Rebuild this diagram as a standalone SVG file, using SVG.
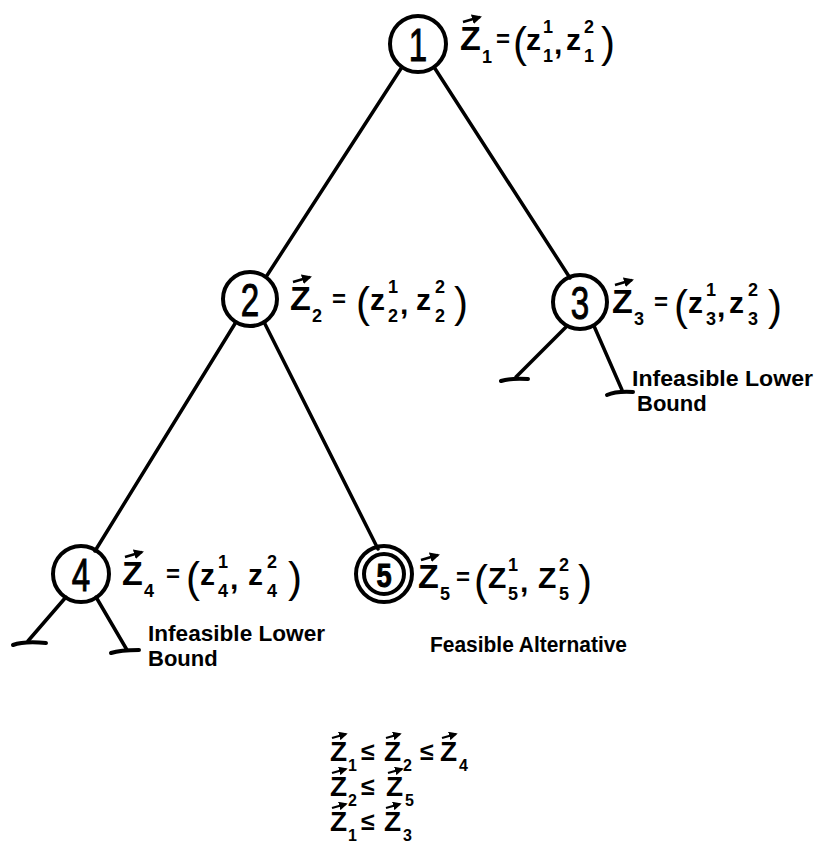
<svg xmlns="http://www.w3.org/2000/svg" width="821" height="860" viewBox="0 0 821 860">
<defs>
<marker id="ah" viewBox="0 0 10 10" refX="8" refY="5" markerWidth="4" markerHeight="4" orient="auto"><path d="M0,0 L10,5 L0,10 z" fill="#000"/></marker>
<style>
.nc{fill:none;stroke:#000;stroke-width:4}
.num{font-family:"Liberation Sans",Arial,sans-serif;font-size:46px;text-anchor:middle;fill:#000;stroke:#000;stroke-width:1}
.Z{font-family:"Liberation Sans",Arial,sans-serif;font-weight:bold;font-size:34px;fill:#000}
.z{font-family:"Liberation Sans",Arial,sans-serif;font-weight:bold;font-size:30px;fill:#000}
.s{font-family:"Liberation Sans",Arial,sans-serif;font-weight:bold;font-size:18px;fill:#000}
.p{font-family:"Liberation Sans",Arial,sans-serif;font-size:42px;fill:#000}
.eq{font-family:"Liberation Sans",Arial,sans-serif;font-weight:bold;font-size:24px;fill:#000}
.vec{fill:none;stroke:#000;stroke-width:2.5;marker-end:url(#ah)}
.note{font-family:"Liberation Sans",Arial,sans-serif;font-weight:bold;font-size:22px;fill:#000}
.edge{fill:none;stroke:#000;stroke-width:3.5;stroke-linecap:round}
.foot{fill:none;stroke:#000;stroke-width:4;stroke-linecap:round}
.rZ{font-family:"Liberation Sans",Arial,sans-serif;font-weight:bold;font-size:28px;fill:#000}
.rs{font-family:"Liberation Sans",Arial,sans-serif;font-weight:bold;font-size:16px;fill:#000}
.rle{font-family:"Liberation Sans",Arial,sans-serif;font-weight:bold;font-size:25px;fill:#000}
.rvec{fill:none;stroke:#000;stroke-width:2.2;marker-end:url(#ah)}
</style>
</defs>
<rect width="821" height="860" fill="#fff"/>

<g id="connectors">
<path class="edge" d="M402,67 L266,277"/>
<path class="edge" d="M434,67 L570,278"/>
<path class="edge" d="M236,322 L95,551"/>
<path class="edge" d="M264,322 L378,549"/>
<path class="edge" d="M567,326 L516,377"/>
<path class="foot" d="M501,381 Q510,378 528,379"/>
<path class="edge" d="M594,326 L622,390"/>
<path class="foot" d="M607,395 Q616,391 633,392"/>
<path class="edge" d="M66,597 L28,641"/>
<path class="foot" d="M13,645 Q24,641 46,643"/>
<path class="edge" d="M96,597 L127,650"/>
<path class="foot" d="M111,653 Q120,650 139,650"/>
</g>

<g id="node1">
<circle class="nc" cx="418" cy="44" r="28"/>
<text class="num" transform="translate(418,61) scale(0.72,1)">1</text>
<g transform="translate(460,50)">
<text class="Z" x="0" y="0">Z</text><path class="vec" d="M3,-28 L20,-33"/>
<text class="s" x="22" y="13">1</text>
<text class="eq" x="36" y="-3">=</text>
<text class="p" x="53" y="7">(</text>
<text class="z" x="66" y="0">z</text>
<text class="s" x="83" y="-17">1</text><text class="s" x="83" y="12">1</text>
<text class="z" x="94" y="4">,</text>
<text class="z" x="106" y="0">z</text>
<text class="s" x="124" y="-17">2</text><text class="s" x="124" y="12">1</text>
<text class="p" x="141" y="7">)</text>
</g>
</g>

<g id="node2">
<circle class="nc" cx="250" cy="299" r="27"/>
<text class="num" transform="translate(250,316) scale(0.72,1)">2</text>
<g transform="translate(290,310)">
<text class="Z" x="0" y="0">Z</text><path class="vec" d="M3,-28 L20,-33"/>
<text class="s" x="22" y="12">2</text>
<text class="eq" x="42" y="-3">=</text>
<text class="p" x="66" y="7">(</text>
<text class="z" x="80" y="0">z</text>
<text class="s" x="98" y="-17">1</text><text class="s" x="98" y="12">2</text>
<text class="z" x="110" y="4">,</text>
<text class="z" x="126" y="0">z</text>
<text class="s" x="145" y="-17">2</text><text class="s" x="145" y="12">2</text>
<text class="p" x="164" y="7">)</text>
</g>
</g>

<g id="node3">
<circle class="nc" cx="580" cy="302" r="27"/>
<text class="num" transform="translate(580,319) scale(0.72,1)">3</text>
<g transform="translate(612,313)">
<text class="Z" x="0" y="0">Z</text><path class="vec" d="M3,-28 L20,-33"/>
<text class="s" x="22" y="12">3</text>
<text class="eq" x="42" y="-3">=</text>
<text class="p" x="62" y="7">(</text>
<text class="z" x="76" y="0">z</text>
<text class="s" x="94" y="-17">1</text><text class="s" x="94" y="12">3</text>
<text class="z" x="105" y="4">,</text>
<text class="z" x="117" y="0">z</text>
<text class="s" x="136" y="-17">2</text><text class="s" x="136" y="12">3</text>
<text class="p" x="156" y="7">)</text>
</g>
<text class="note" x="632" y="386" textLength="181" lengthAdjust="spacingAndGlyphs">Infeasible Lower</text>
<text class="note" x="637" y="411">Bound</text>
</g>

<g id="node4">
<circle class="nc" cx="81" cy="574" r="28"/>
<text class="num" transform="translate(81,591) scale(0.72,1)">4</text>
<g transform="translate(122,585)">
<text class="Z" x="0" y="0">Z</text><path class="vec" d="M3,-28 L20,-33"/>
<text class="s" x="22" y="12">4</text>
<text class="eq" x="44" y="-3">=</text>
<text class="p" x="64" y="7">(</text>
<text class="z" x="78" y="0">z</text>
<text class="s" x="96" y="-17">1</text><text class="s" x="96" y="12">4</text>
<text class="z" x="108" y="4">,</text>
<text class="z" x="126" y="0">z</text>
<text class="s" x="145" y="-17">2</text><text class="s" x="145" y="12">4</text>
<text class="p" x="166" y="7">)</text>
</g>
<text class="note" x="148" y="641" textLength="177" lengthAdjust="spacingAndGlyphs">Infeasible Lower</text>
<text class="note" x="148" y="666">Bound</text>
</g>

<g id="node5">
<circle class="nc" cx="384" cy="574" r="28"/>
<circle class="nc" cx="384" cy="574" r="20"/>
<text class="num" transform="translate(384,587) scale(0.8,1)" style="font-size:34px;font-weight:bold">5</text>
<g transform="translate(418,588)">
<text class="Z" x="0" y="0">Z</text><path class="vec" d="M3,-28 L20,-33"/>
<text class="s" x="22" y="12">5</text>
<text class="eq" x="38" y="-3">=</text>
<text class="p" x="56" y="7">(</text>
<text class="Z" x="70" y="0" style="font-size:30px">Z</text>
<text class="s" x="90" y="-17">1</text><text class="s" x="90" y="12">5</text>
<text class="z" x="102" y="4">,</text>
<text class="Z" x="120" y="0" style="font-size:30px">Z</text>
<text class="s" x="141" y="-17">2</text><text class="s" x="141" y="12">5</text>
<text class="p" x="160" y="7">)</text>
</g>
<text class="note" x="430" y="652" textLength="197" lengthAdjust="spacingAndGlyphs">Feasible Alternative</text>
</g>

<g id="relations">
<g transform="translate(330,761)">
<text class="rZ" x="0" y="0">Z</text><path class="rvec" d="M2,-23 L16,-27"/>
<text class="rs" x="18" y="10">1</text>
<text class="rle" x="31" y="-1">≤</text>
<text class="rZ" x="54" y="0">Z</text><path class="rvec" d="M56,-23 L70,-27"/>
<text class="rs" x="73" y="10">2</text>
<text class="rle" x="90" y="-1">≤</text>
<text class="rZ" x="110" y="0">Z</text><path class="rvec" d="M112,-23 L126,-27"/>
<text class="rs" x="129" y="10">4</text>
</g>
<g transform="translate(330,796)">
<text class="rZ" x="0" y="0">Z</text><path class="rvec" d="M2,-23 L16,-27"/>
<text class="rs" x="18" y="10">2</text>
<text class="rle" x="31" y="-1">≤</text>
<text class="rZ" x="56" y="0">Z</text><path class="rvec" d="M58,-23 L72,-27"/>
<text class="rs" x="75" y="10">5</text>
</g>
<g transform="translate(330,831)">
<text class="rZ" x="0" y="0">Z</text><path class="rvec" d="M2,-23 L16,-27"/>
<text class="rs" x="18" y="10">1</text>
<text class="rle" x="31" y="-1">≤</text>
<text class="rZ" x="54" y="0">Z</text><path class="rvec" d="M56,-23 L70,-27"/>
<text class="rs" x="73" y="10">3</text>
</g>
</g>
</svg>
